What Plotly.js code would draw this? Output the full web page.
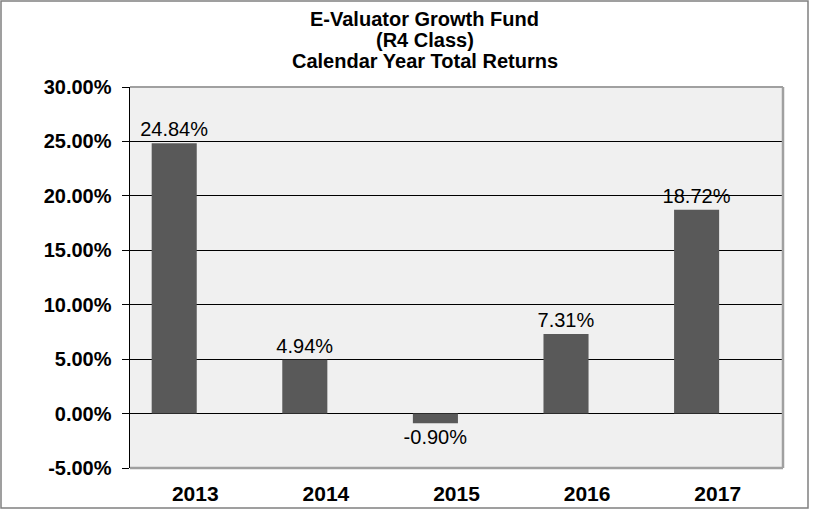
<!DOCTYPE html>
<html>
<head>
<meta charset="utf-8">
<script src="https://cdn.plot.ly/plotly-3.0.1.min.js"></script>
<style>html,body{margin:0;padding:0;background:#fff;}#chart{width:813px;height:509px;}</style>
</head>
<body>
<div id="chart"></div>
<script>
const years = ['2013', '2014', '2015', '2016', '2017'];
const returns = [24.84, 4.94, -0.90, 7.31, 18.72];
const titleLines = ['E-Valuator Growth Fund', '(R4 Class)', 'Calendar Year Total Returns'];
const yTicks = [-5, 0, 5, 10, 15, 20, 25, 30];

const W = 813, H = 509;
const M = {l: 130, r: 30, t: 87, b: 41};
const pw = W - M.l - M.r, ph = H - M.t - M.b;
const px = x => (x - M.l) / pw;
const py = y => (H - M.b - y) / ph;

const trace = {
  type: 'bar',
  x: years,
  y: returns,
  width: 0.345,
  offset: -0.334,
  marker: {color: '#595959', line: {width: 0}},
  texttemplate: '%{y:.2f}%',
  textposition: 'outside',
  constraintext: 'none',
  cliponaxis: false,
  textfont: {family: 'Liberation Sans, Arial, sans-serif', size: 20, color: '#000'},
  hoverinfo: 'skip'
};

const annotations = titleLines.map((t, i) => ({
  text: '<b>' + t + '</b>',
  xref: 'paper', yref: 'paper',
  x: px(424.5), y: py([19, 40, 61][i]),
  xanchor: 'center', yanchor: 'middle',
  showarrow: false,
  font: {family: 'Liberation Sans, Arial, sans-serif', size: 20, color: '#000'}
}));

const gray = '#a0a0a0';
const shapes = [
  {type: 'rect', xref: 'paper', yref: 'paper', x0: px(1), x1: px(808), y0: py(508), y1: py(1),
   line: {color: '#808080', width: 1.5}, layer: 'above'},
  {type: 'line', xref: 'paper', yref: 'paper', x0: 0, x1: 1, y0: 1, y1: 1, line: {color: gray, width: 2}, layer: 'above'},
  {type: 'line', xref: 'paper', yref: 'paper', x0: 1, x1: 1, y0: 0, y1: 1, line: {color: gray, width: 2.5}, layer: 'above'},
  {type: 'line', xref: 'paper', yref: 'paper', x0: 0, x1: 1, y0: 0, y1: 0, line: {color: gray, width: 2.5}, layer: 'above'}
];

const layout = {
  width: W, height: H,
  margin: M,
  paper_bgcolor: '#ffffff',
  plot_bgcolor: '#f0f0f0',
  showlegend: false,
  xaxis: {
    type: 'category',
    range: [-0.5, 4.5],
    showgrid: false, zeroline: false, showline: false,
    ticks: '', ticklabelstandoff: 11,
    tickfont: {family: 'Liberation Sans, Arial, sans-serif', size: 21, color: '#000', weight: 'bold'},
    fixedrange: true
  },
  yaxis: {
    range: [-5, 30],
    tickvals: yTicks,
    ticktext: yTicks.map(v => v.toFixed(2) + '%'),
    showgrid: true, gridcolor: '#000', gridwidth: 1,
    zeroline: true, zerolinecolor: '#000', zerolinewidth: 1,
    showline: true, linecolor: '#000', linewidth: 1.5,
    ticks: 'outside', ticklen: 7, tickcolor: '#000', tickwidth: 1,
    ticklabelstandoff: 6,
    tickfont: {family: 'Liberation Sans, Arial, sans-serif', size: 20, color: '#000', weight: 'bold'},
    fixedrange: true
  },
  annotations: annotations,
  shapes: shapes
};

Plotly.newPlot('chart', [trace], layout, {displayModeBar: false, staticPlot: true});
</script>
</body>
</html>
